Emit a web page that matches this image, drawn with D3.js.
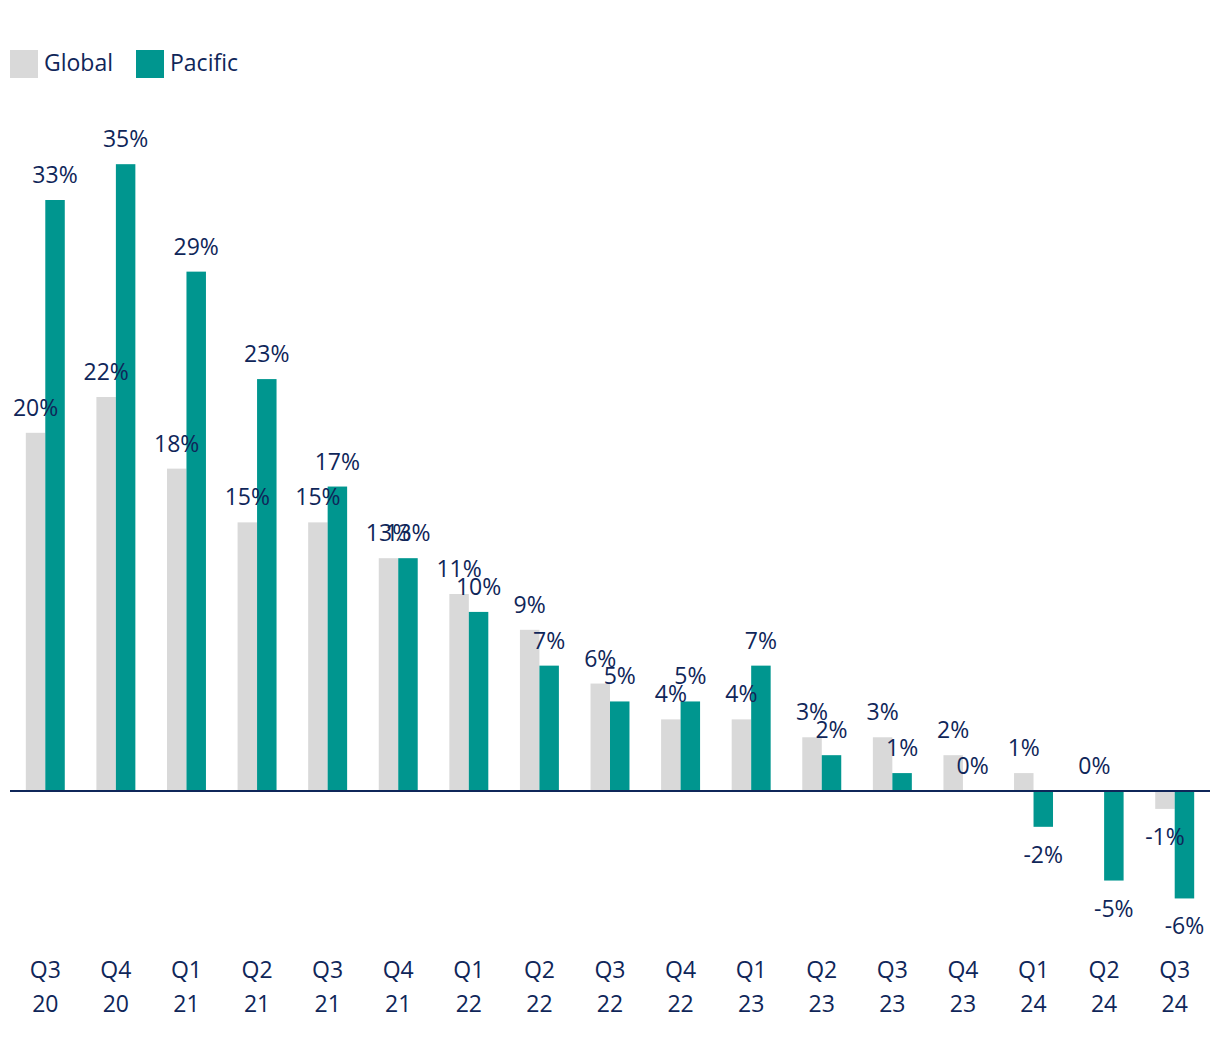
<!DOCTYPE html>
<html><head><meta charset="utf-8">
<script src="https://cdn.jsdelivr.net/npm/d3@7"></script>
<style>body{margin:0;background:#fff}svg{display:block}text{font-family:"Open Sans",sans-serif}</style>
</head><body>
<script>
const quarters = ["Q3","Q4","Q1","Q2","Q3","Q4","Q1","Q2","Q3","Q4","Q1","Q2","Q3","Q4","Q1","Q2","Q3"];
const years = ["20","20","21","21","21","21","22","22","22","22","23","23","23","23","24","24","24"];
const globalValues = [20,22,18,15,15,13,11,9,6,4,4,3,3,2,1,0,-1];
const pacificValues = [33,35,29,23,17,13,10,7,5,5,7,2,1,0,-2,-5,-6];
const seriesNames = ["Global","Pacific"];
const colors = ["#d9d9d9","#00968f"];
const textColor = "#0f2659";
const fs = 23;

const W = 1220, H = 1040;
const svg = d3.select("body").append("svg").attr("width", W).attr("height", H);
const cats = quarters.map((q,i)=>i);
const x0 = d3.scaleBand().domain(cats).range([10,1210]).paddingInner(0.448).paddingOuter(0.224);
const x1 = d3.scaleBand().domain(seriesNames).range([0,x0.bandwidth()]);
const y = d3.scaleLinear().domain([0,33]).range([791,200]);

const data = cats.map(i=>({i, vals:[globalValues[i], pacificValues[i]]}));
const g = svg.append("g");
const groups = g.selectAll("g.grp").data(data).join("g").attr("transform", d=>`translate(${x0(d.i)},0)`);
groups.selectAll("rect").data(d=>d.vals.map((v,k)=>({v,k}))).join("rect")
  .attr("x", d=>x1(seriesNames[d.k]))
  .attr("width", x1.bandwidth())
  .attr("y", d=>Math.min(y(d.v), y(0)))
  .attr("height", d=>Math.abs(y(d.v)-y(0)))
  .attr("fill", d=>colors[d.k]);

svg.append("line").attr("x1",10).attr("x2",1210).attr("y1",y(0)).attr("y2",y(0))
  .attr("stroke",textColor).attr("stroke-width",2);

groups.selectAll("text.lbl").data(d=>d.vals.map((v,k)=>({v,k}))).join("text")
  .attr("class","lbl")
  .attr("x", d=>x1(seriesNames[d.k])+x1.bandwidth()/2)
  .attr("y", d=> d.v>=0 ? y(d.v)-17 : y(d.v)+36)
  .attr("text-anchor","middle").attr("fill",textColor).attr("font-size",fs)
  .text(d=>d.v+"%");

// axis
const ax = svg.append("g").selectAll("text").data(cats).join("text")
  .attr("x", i=>x0(i)+x0.bandwidth()/2).attr("text-anchor","middle")
  .attr("fill",textColor).attr("font-size",fs);
ax.append("tspan").attr("x", i=>x0(i)+x0.bandwidth()/2).attr("y",978).text(i=>quarters[i]);
ax.append("tspan").attr("x", i=>x0(i)+x0.bandwidth()/2).attr("y",1012).text(i=>years[i]);

// legend
const legX = [10,136];
const lg = svg.append("g").selectAll("g").data(seriesNames).join("g");
lg.append("rect").attr("x",(d,k)=>legX[k]).attr("y",50).attr("width",28).attr("height",28).attr("fill",(d,k)=>colors[k]);
lg.append("text").attr("x",(d,k)=>legX[k]+34).attr("y",70.5).attr("fill",textColor).attr("font-size",fs).text(d=>d);
</script>
</body></html>
